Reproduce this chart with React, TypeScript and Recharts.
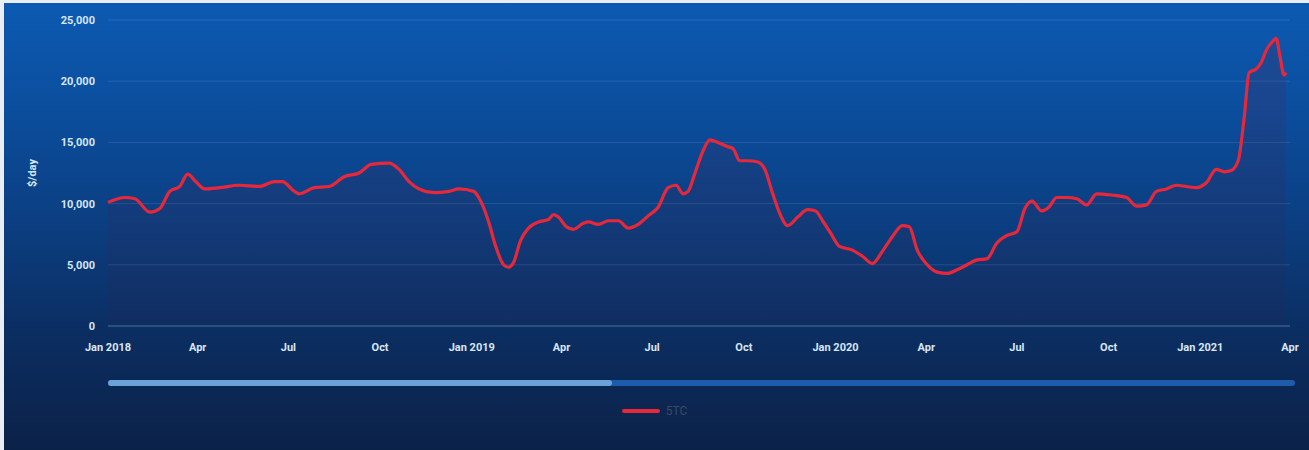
import React from "react";
import {
  AreaChart,
  Area,
  XAxis,
  YAxis,
  CartesianGrid,
  Legend,
  Label,
} from "recharts";

const seriesName = "5TC";

const dates: string[] = [
  "2018-01-01", "2018-01-18", "2018-01-28", "2018-02-12", "2018-02-22", "2018-03-04", "2018-03-14", "2018-03-22",
  "2018-03-30", "2018-04-08", "2018-04-23", "2018-05-13", "2018-06-02", "2018-06-17", "2018-06-25", "2018-07-07",
  "2018-07-12", "2018-07-27", "2018-08-11", "2018-08-26", "2018-09-10", "2018-09-22", "2018-10-10", "2018-10-20",
  "2018-10-30", "2018-11-09", "2018-11-24", "2018-12-09", "2018-12-19", "2019-01-03", "2019-01-08", "2019-01-18",
  "2019-01-25", "2019-02-02", "2019-02-07", "2019-02-12", "2019-02-19", "2019-02-27", "2019-03-09", "2019-03-19",
  "2019-03-24", "2019-03-29", "2019-04-06", "2019-04-13", "2019-04-23", "2019-04-28", "2019-05-08", "2019-05-18",
  "2019-05-28", "2019-06-07", "2019-06-17", "2019-06-27", "2019-07-07", "2019-07-17", "2019-07-25", "2019-08-01",
  "2019-08-06", "2019-08-13", "2019-08-21", "2019-08-28", "2019-09-05", "2019-09-13", "2019-09-20", "2019-09-27",
  "2019-10-05", "2019-10-15", "2019-10-22", "2019-10-30", "2019-11-06", "2019-11-14", "2019-11-24", "2019-12-04",
  "2019-12-12", "2019-12-19", "2019-12-27", "2020-01-05", "2020-01-18", "2020-01-28", "2020-02-07", "2020-02-17",
  "2020-02-27", "2020-03-08", "2020-03-15", "2020-03-23", "2020-04-02", "2020-04-12", "2020-04-22", "2020-05-02",
  "2020-05-12", "2020-05-22", "2020-06-01", "2020-06-11", "2020-06-21", "2020-07-01", "2020-07-09", "2020-07-16",
  "2020-07-26", "2020-08-02", "2020-08-10", "2020-08-20", "2020-08-30", "2020-09-09", "2020-09-19", "2020-10-04",
  "2020-10-19", "2020-10-29", "2020-11-08", "2020-11-18", "2020-11-28", "2020-12-08", "2020-12-18", "2020-12-28",
  "2021-01-07", "2021-01-17", "2021-01-25", "2021-02-01", "2021-02-08", "2021-02-14", "2021-02-19", "2021-02-26",
  "2021-03-03", "2021-03-08", "2021-03-14", "2021-03-18", "2021-03-22", "2021-03-26", "2021-03-28",
];

const values: number[] = [
  10100, 10500, 10400, 9300, 9600, 11000, 11400, 12400,
  11800, 11200, 11300, 11500, 11400, 11800, 11800, 11000,
  10800, 11300, 11400, 12200, 12500, 13200, 13300, 12800,
  11800, 11200, 10900, 11000, 11200, 11000, 10500, 8500,
  6500, 5000, 4800, 5200, 7000, 8000, 8500, 8700,
  9100, 8900, 8100, 7900, 8400, 8500, 8300, 8600,
  8600, 8000, 8300, 9000, 9700, 11300, 11500, 10800,
  11000, 12500, 14300, 15200, 15000, 14700, 14500, 13500,
  13500, 13400, 12800, 10800, 9200, 8200, 8900, 9500,
  9400, 8600, 7600, 6500, 6200, 5700, 5100, 6100,
  7300, 8200, 8100, 6200, 5000, 4400, 4300, 4600,
  5000, 5400, 5500, 6800, 7400, 7700, 9600, 10200,
  9400, 9700, 10500, 10500, 10400, 9900, 10800, 10700,
  10500, 9800, 9900, 11000, 11200, 11500, 11400, 11300,
  11700, 12800, 12600, 12700, 13500, 17000, 20700, 21000,
  21500, 22500, 23200, 23500, 22000, 20500, 20700,
];

const xTickDates: string[] = [
  "2018-01-01", "2018-04-01", "2018-07-01", "2018-10-01",
  "2019-01-01", "2019-04-01", "2019-07-01", "2019-10-01",
  "2020-01-01", "2020-04-01", "2020-07-01", "2020-10-01",
  "2021-01-01", "2021-04-01",
];
const xTickLabels: string[] = [
  "Jan 2018", "Apr", "Jul", "Oct",
  "Jan 2019", "Apr", "Jul", "Oct",
  "Jan 2020", "Apr", "Jul", "Oct",
  "Jan 2021", "Apr",
];
const yTicks: number[] = [0, 5000, 10000, 15000, 20000, 25000];

const toTs = (d: string) => Date.parse(d + "T00:00:00Z");

const data = dates.map((d, i) => ({ t: toTs(d), v: values[i] }));
const xTicks = xTickDates.map(toTs);
const labelFor = (ts: number) => {
  const i = xTicks.indexOf(ts);
  return i >= 0 ? xTickLabels[i] : "";
};

const tickStyle = {
  fill: "#d8e6f7",
  fontSize: 11,
  fontWeight: 700,
  fontFamily: "Roboto, 'Noto Sans', sans-serif",
};

const renderLegend = () => (
  <div
    style={{
      display: "flex",
      justifyContent: "center",
      alignItems: "center",
      fontFamily: "Roboto, sans-serif",
    }}
  >
    <span
      style={{
        display: "inline-block",
        width: 38,
        height: 4,
        background: "#e8283a",
        borderRadius: 2,
        marginRight: 6,
      }}
    />
    <span style={{ color: "#3a4868", fontSize: 12 }}>{seriesName}</span>
  </div>
);

export default function App() {
  return (
    <div
      style={{
        position: "absolute",
        left: 0,
        top: 0,
        width: 1309,
        height: 450,
        background: "#e9eef4",
        overflow: "hidden",
      }}
    >
      <div
        style={{
          position: "absolute",
          left: 4,
          top: 3,
          width: 1305,
          height: 447,
          background:
            "linear-gradient(180deg, #0c5ab2 0%, #0b4d9c 25%, #0b3e80 50%, #0b2d60 75%, #0b2248 100%)",
        }}
      />
      {/* scroll bar */}
      <div
        style={{
          position: "absolute",
          left: 108,
          top: 380,
          width: 1187,
          height: 6,
          background: "#1d5cab",
          borderRadius: 3,
        }}
      />
      <div
        style={{
          position: "absolute",
          left: 108,
          top: 380,
          width: 504,
          height: 6,
          background: "#6aa3d8",
          borderRadius: 3,
        }}
      />
      <div style={{ position: "absolute", left: 0, top: 0 }}>
        <AreaChart
          width={1309}
          height={450}
          data={data}
          margin={{ top: 20, right: 19, left: 0, bottom: 80 }}
        >
          <defs>
            <linearGradient id="areaFill" x1="0" y1="0" x2="0" y2="1">
              <stop offset="0%" stopColor="#5a1f45" stopOpacity={0.35} />
              <stop offset="100%" stopColor="#3a1a3f" stopOpacity={0.15} />
            </linearGradient>
          </defs>
          <CartesianGrid
            vertical={false}
            stroke="rgba(170,200,240,0.16)"
            strokeWidth={1}
          />
          <XAxis
            dataKey="t"
            type="number"
            scale="time"
            domain={[toTs("2018-01-01"), toTs("2021-04-01")]}
            ticks={xTicks}
            tickFormatter={labelFor}
            tick={tickStyle}
            tickLine={false}
            axisLine={{ stroke: "rgba(170,200,240,0.3)" }}
            tickSize={0}
            tickMargin={17}
            height={30}
            interval={0}
          />
          <YAxis
            type="number"
            domain={[0, 25000]}
            ticks={yTicks}
            tickFormatter={(v: number) => v.toLocaleString("en-US")}
            tick={tickStyle}
            tickLine={false}
            axisLine={false}
            tickSize={0}
            tickMargin={13}
            width={108}
            interval={0}
          >
            <Label
              value="$/day"
              angle={-90}
              position="insideLeft"
              offset={32}
              style={{ ...tickStyle, textAnchor: "middle" }}
            />
          </YAxis>
          <Legend
            verticalAlign="bottom"
            content={renderLegend}
            wrapperStyle={{ position: "absolute", top: 404, left: 0, width: 1309 }}
          />
          <Area
            type="monotone"
            dataKey="v"
            name={seriesName}
            stroke="#e8283a"
            strokeWidth={3.2}
            fill="url(#areaFill)"
            dot={false}
            activeDot={false}
            isAnimationActive={false}
          />
        </AreaChart>
      </div>
    </div>
  );
}
